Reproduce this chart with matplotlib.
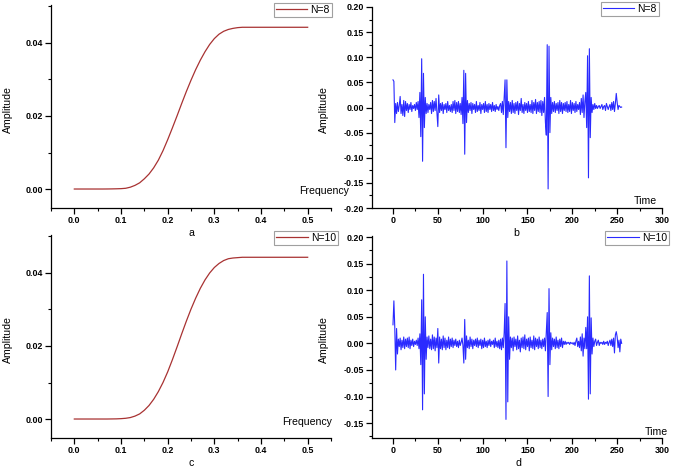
import numpy as np
import matplotlib
matplotlib.use("Agg")
import matplotlib.pyplot as plt
from matplotlib.ticker import MultipleLocator, FormatStrFormatter

plt.rcParams['font.family'] = ['Liberation Sans', 'DejaVu Sans']

# ---------------- data ----------------
freq = [0.00, 0.01, 0.02, 0.03, 0.04, 0.05, 0.06, 0.07, 0.08, 0.09,
        0.10, 0.11, 0.12, 0.13, 0.14, 0.15, 0.16, 0.17, 0.18, 0.19,
        0.20, 0.21, 0.22, 0.23, 0.24, 0.25, 0.26, 0.27, 0.28, 0.29,
        0.30, 0.31, 0.32, 0.33, 0.34, 0.35, 0.36, 0.37, 0.38, 0.39,
        0.40, 0.41, 0.42, 0.43, 0.44, 0.45, 0.46, 0.47, 0.48, 0.49, 0.50]

amp_n8 = [0.0, 0.0, 0.0, 0.0, 0.0, 0.0, 0.0, 0.00001, 0.00003, 0.00006,
          0.0001, 0.0002, 0.0005, 0.0010, 0.0017, 0.0028, 0.0041, 0.0058, 0.0079, 0.0105,
          0.0135, 0.0167, 0.0200, 0.0234, 0.0267, 0.0298, 0.0327, 0.0353, 0.0376, 0.0396,
          0.0412, 0.0424, 0.0432, 0.0437, 0.0440, 0.0442, 0.0443, 0.0443, 0.0443, 0.0443,
          0.0443, 0.0443, 0.0443, 0.0443, 0.0443, 0.0443, 0.0443, 0.0443, 0.0443, 0.0443, 0.0443]

amp_n10 = [0.0, 0.0, 0.0, 0.0, 0.0, 0.0, 0.0, 0.0, 0.00002, 0.00004,
           0.0001, 0.0002, 0.0004, 0.0008, 0.0014, 0.0024, 0.0037, 0.0054, 0.0075, 0.0100,
           0.0129, 0.0162, 0.0197, 0.0233, 0.0268, 0.0301, 0.0331, 0.0358, 0.0381, 0.0400,
           0.0415, 0.0426, 0.0434, 0.0439, 0.0441, 0.0442, 0.0443, 0.0443, 0.0443, 0.0443,
           0.0443, 0.0443, 0.0443, 0.0443, 0.0443, 0.0443, 0.0443, 0.0443, 0.0443, 0.0443, 0.0443]

sig_n8 = [
    0.055, 0.052, -0.030, 0.008, -0.012, 0.010, -0.008, 0.004, 0.022, -0.012, 0.006, -0.016, 0.014, -0.018, 0.012, -0.006,
    0.008, -0.010, 0.006, -0.004, 0.010, -0.008, 0.004, -0.002, 0.006, -0.006, 0.010, -0.004, 0.012, -0.020, 0.030, -0.058,
    0.097, -0.107, 0.068, -0.040, 0.020, -0.012, 0.008, -0.010, 0.006, -0.004, 0.010, -0.012, 0.014, -0.008, 0.012, -0.006,
    0.018, -0.010, -0.038, 0.025, -0.010, 0.008, -0.006, 0.010, -0.012, 0.006, -0.004, 0.008, -0.010, 0.012, -0.006, 0.004,
    -0.008, 0.006, -0.010, 0.012, -0.006, 0.014, -0.012, 0.010, -0.008, 0.012, -0.010, 0.008, -0.014, 0.020, -0.032, 0.074,
    -0.093, 0.068, -0.030, 0.014, -0.010, 0.008, -0.006, 0.010, -0.012, 0.008, -0.004, 0.006, -0.010, 0.012, -0.008, 0.004,
    -0.006, 0.010, -0.012, 0.006, -0.004, 0.008, -0.010, 0.012, -0.008, 0.006, -0.010, 0.008, -0.004, 0.006, -0.008, 0.010,
    -0.006, 0.004, -0.008, 0.006, -0.004, 0.002, -0.006, 0.004, 0.008, -0.010, 0.012, -0.014, 0.020, 0.055, -0.080, 0.055,
    -0.020, 0.012, -0.008, 0.010, -0.012, 0.014, -0.010, 0.008, -0.012, 0.010, -0.006, 0.012, -0.014, 0.008, -0.006, 0.018,
    -0.010, 0.006, -0.012, 0.010, -0.006, 0.008, -0.010, 0.012, -0.008, 0.006, -0.010, 0.014, -0.012, 0.010, -0.006, 0.016,
    -0.012, 0.010, -0.008, 0.012, -0.010, 0.014, -0.016, 0.012, -0.010, 0.020, -0.030, -0.055, 0.125, -0.162, 0.122, -0.050,
    0.020, -0.012, 0.010, -0.008, 0.012, -0.010, 0.008, -0.006, 0.010, -0.012, 0.014, -0.008, 0.010, -0.012, 0.008, -0.006,
    0.010, -0.008, 0.012, -0.010, 0.006, -0.008, 0.014, -0.012, 0.010, -0.006, 0.008, -0.010, 0.012, -0.008, 0.006, -0.004,
    0.010, -0.014, 0.018, -0.010, 0.025, -0.020, 0.012, 0.030, -0.040, 0.103, -0.140, 0.117, -0.060, 0.020, -0.010, 0.006,
    -0.004, 0.008, -0.002, 0.004, -0.002, 0.002, 0.004, -0.002, 0.002, 0.006, -0.004, 0.002, 0.004, -0.006, 0.008, 0.002,
    -0.004, 0.002, 0.006, -0.006, 0.010, -0.004, 0.012, -0.008, 0.008, 0.028, 0.010, -0.004, 0.004, 0.002, 0.000, 0.001,
]

sig_n10 = [
    0.035, 0.080, 0.030, -0.050, 0.028, -0.020, 0.008, -0.006, 0.010, -0.012, 0.006, -0.008, 0.012, -0.010, 0.008, -0.006,
    0.010, -0.008, 0.012, -0.010, 0.006, -0.004, 0.008, -0.006, 0.004, -0.002, 0.006, -0.004, 0.010, -0.010, 0.018, -0.040,
    0.082, -0.125, 0.130, -0.095, 0.050, -0.030, 0.012, -0.008, 0.014, -0.010, 0.008, -0.012, 0.016, -0.010, 0.012, -0.014,
    0.010, -0.008, 0.028, -0.037, 0.012, -0.010, 0.008, -0.012, 0.014, -0.008, 0.010, -0.012, 0.006, -0.008, 0.012, -0.010,
    0.008, -0.006, 0.010, -0.008, 0.006, -0.004, 0.008, -0.006, 0.004, -0.008, 0.006, -0.004, 0.002, 0.010, -0.004, -0.037,
    0.045, -0.030, 0.014, -0.008, 0.006, -0.010, 0.012, -0.006, 0.008, -0.010, 0.006, -0.004, 0.008, -0.006, 0.010, -0.008,
    0.006, -0.004, 0.008, -0.010, 0.006, -0.008, 0.010, -0.006, 0.004, -0.008, 0.006, -0.004, 0.008, -0.006, 0.004, -0.002,
    0.006, -0.008, 0.010, -0.006, 0.004, -0.008, 0.006, -0.010, 0.008, -0.012, 0.010, -0.008, 0.020, 0.075, -0.143, 0.155,
    -0.110, 0.050, -0.030, 0.012, -0.008, 0.010, -0.014, 0.012, -0.006, 0.008, -0.012, 0.014, -0.010, 0.006, -0.016, 0.010,
    -0.008, 0.012, -0.010, 0.016, -0.012, 0.008, -0.006, 0.010, -0.014, 0.012, -0.008, 0.006, -0.010, 0.014, -0.012, 0.010,
    -0.006, 0.008, -0.010, 0.012, -0.008, 0.006, -0.010, 0.008, -0.006, 0.010, -0.014, 0.020, 0.058, -0.100, 0.103, -0.040,
    0.020, -0.012, 0.010, -0.006, 0.008, -0.010, 0.012, -0.008, 0.006, -0.010, 0.008, -0.006, 0.010, -0.008, 0.004, -0.002,
    0.004, -0.002, 0.002, 0.000, 0.002, -0.002, 0.002, 0.000, 0.001, -0.002, 0.002, -0.004, 0.004, 0.010, -0.006, 0.004,
    -0.008, 0.012, -0.014, 0.018, -0.024, 0.010, -0.010, 0.030, -0.010, 0.050, -0.105, 0.127, -0.095, 0.048, -0.020, 0.010,
    -0.006, 0.004, 0.008, -0.004, 0.002, 0.006, -0.004, 0.002, 0.000, 0.002, -0.002, 0.004, -0.002, 0.002, 0.000, 0.004,
    -0.004, 0.002, 0.006, -0.004, 0.008, -0.006, 0.010, -0.018, 0.016, 0.022, 0.012, -0.008, 0.006, -0.016, 0.008, 0.000,
]

labels = ["N=8", "N=10"]
panel_letters = ["a", "b", "c", "d"]

RED = "#a83232"
BLUE = "#2a2aff"

W, H = 675, 470
fig = plt.figure(figsize=(W / 100, H / 100), dpi=100)


def rect(left, top, right, bottom):
    return [left / W, 1 - bottom / H, (right - left) / W, (bottom - top) / H]


ax_a = fig.add_axes(rect(51, 5, 331, 208))
ax_b = fig.add_axes(rect(372, 7, 662, 208))
ax_c = fig.add_axes(rect(51, 235, 331, 438))
ax_d = fig.add_axes(rect(372, 236, 662, 438))

TICK_FS = 6.4
LAB_FS = 7.6


def style(ax):
    for s in ("top", "right"):
        ax.spines[s].set_visible(False)
    for s in ("left", "bottom"):
        ax.spines[s].set_linewidth(0.9)
    ax.tick_params(which="major", direction="out", length=4, width=0.9,
                   labelsize=TICK_FS, pad=2)
    ax.tick_params(which="minor", direction="out", length=2, width=0.8)
    for lab in ax.get_xticklabels() + ax.get_yticklabels():
        lab.set_fontweight("bold")


def legend(ax, label, x1, y0):
    leg = ax.legend([label], loc="upper right",
                    bbox_to_anchor=(x1 / W, 1 - y0 / H), bbox_transform=fig.transFigure,
                    fontsize=7.5, frameon=True, fancybox=False, handlelength=3.0,
                    handletextpad=0.3, borderpad=0.2, borderaxespad=0.0)
    leg.get_frame().set_edgecolor("#888888")
    leg.get_frame().set_linewidth(0.8)
    return leg


t8 = np.arange(len(sig_n8))
t10 = np.arange(len(sig_n10))

ax_a.plot(freq, amp_n8, color=RED, lw=0.9)
ax_c.plot(freq, amp_n10, color=RED, lw=0.9)
for ax in (ax_a, ax_c):
    ax.set_xlim(-0.05, 0.55)
    ax.set_ylim(-0.0052, 0.0504)
    ax.xaxis.set_major_locator(MultipleLocator(0.1))
    ax.xaxis.set_minor_locator(MultipleLocator(0.05))
    ax.yaxis.set_major_locator(MultipleLocator(0.02))
    ax.yaxis.set_minor_locator(MultipleLocator(0.01))
    ax.xaxis.set_major_formatter(FormatStrFormatter("%.1f"))
    ax.yaxis.set_major_formatter(FormatStrFormatter("%.2f"))

ax_b.plot(t8, sig_n8, color=BLUE, lw=0.8)
ax_d.plot(t10, sig_n10, color=BLUE, lw=0.8)
for ax in (ax_b, ax_d):
    ax.set_xlim(-23.4, 300)
    ax.xaxis.set_major_locator(MultipleLocator(50))
    ax.xaxis.set_minor_locator(MultipleLocator(25))
    ax.yaxis.set_major_locator(MultipleLocator(0.05))
    ax.yaxis.set_minor_locator(MultipleLocator(0.025))
    ax.yaxis.set_major_formatter(FormatStrFormatter("%.2f"))
ax_b.set_ylim(-0.2, 0.2)
ax_d.set_ylim(-0.178, 0.202)

for ax in (ax_a, ax_b, ax_c, ax_d):
    style(ax)

legend(ax_a, labels[0], 332, 3)
legend(ax_b, labels[0], 659, 2)
legend(ax_c, labels[1], 338, 231)
legend(ax_d, labels[1], 669, 231)

# y labels
for (x, y) in ((7.5, 110), (324, 110), (7.5, 340), (324, 340)):
    fig.text(x / W, 1 - y / H, "Amplitude", rotation=90, ha="center", va="center",
             fontsize=LAB_FS)

# axis titles near end of x axis
fig.text(299 / W, 1 - 191 / H, "Frequency", ha="left", va="center", fontsize=LAB_FS)
fig.text(282 / W, 1 - 422 / H, "Frequency", ha="left", va="center", fontsize=LAB_FS)
fig.text(634 / W, 1 - 201 / H, "Time", ha="left", va="center", fontsize=LAB_FS)
fig.text(645 / W, 1 - 432 / H, "Time", ha="left", va="center", fontsize=LAB_FS)

# panel letters
for (x, y), letter in zip(((191, 233), (516, 233), (191, 463), (518, 463)), panel_letters):
    fig.text(x / W, 1 - y / H, letter, ha="center", va="center", fontsize=LAB_FS)

fig.savefig("out.png", dpi=100)
